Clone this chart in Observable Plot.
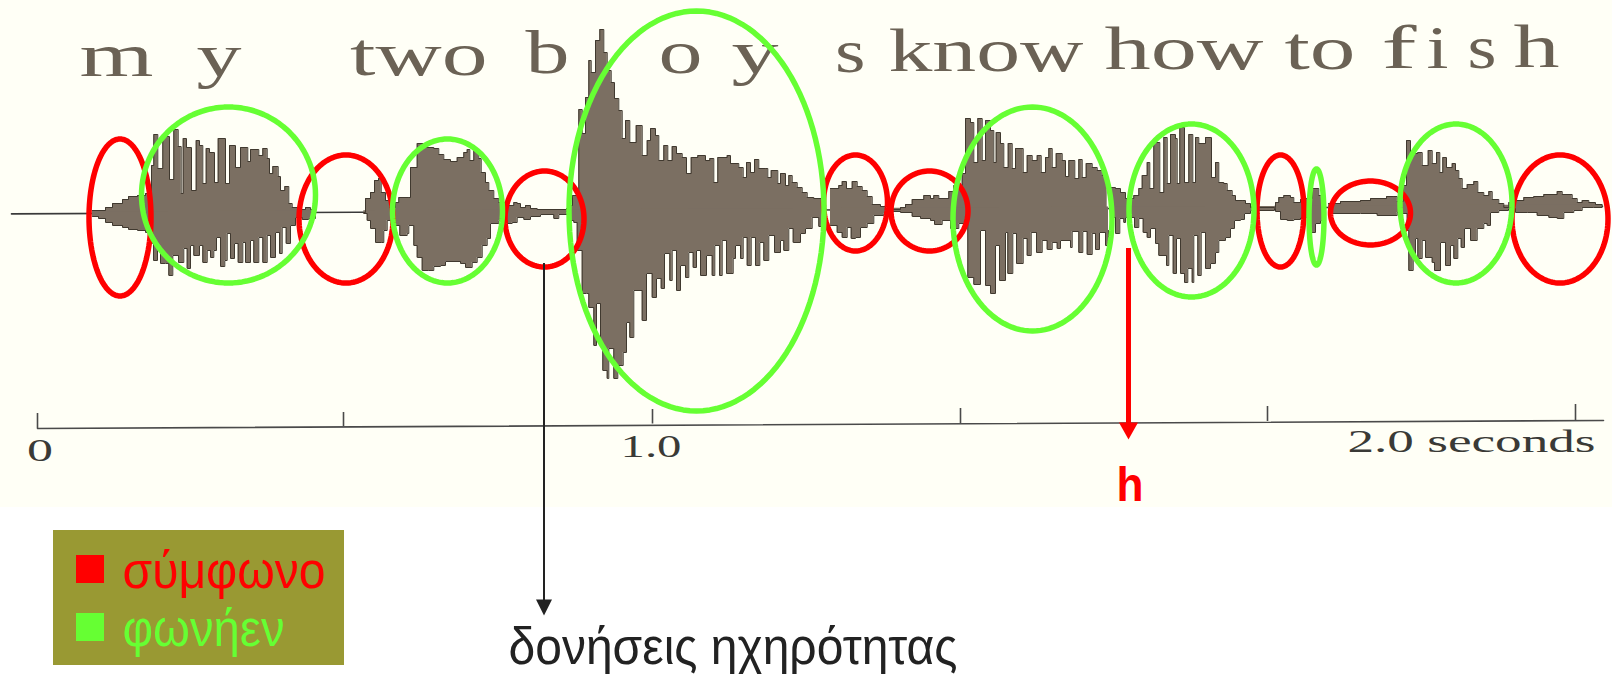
<!DOCTYPE html>
<html lang="el">
<head>
<meta charset="utf-8">
<title>my two boys know how to fish</title>
<script src="https://cdn.jsdelivr.net/npm/d3@7"></script>
<script src="https://cdn.jsdelivr.net/npm/@observablehq/plot@0.6"></script>
<style>
html,body{margin:0;padding:0;background:#fff;overflow:hidden}
svg{display:block}
</style>
</head>
<body>
<div id="chart"></div>
<script>
// Waveform envelope: [frame, amplitude] (steps).
const upperMy = [[92,0],[105,3],[112,7],[122,11],[128,14],[137,15],[145,17],[151,45],[153.3,76],[157.3,42],[162.3,74],[169,31],[173.3,81],[177.7,64],[180.7,17],[182.7,72],[186,63],[191,20],[195.7,70],[199,65],[202.3,27],[205.7,62],[209,58],[214,28],[217.7,72],[225,27],[229,65],[235,43],[240,63],[247.3,49],[250,61],[258.3,55],[262.3,62],[266.7,52],[269,37],[272.3,44],[277.7,34],[280,20],[284.3,24],[288.3,7],[291.7,3],[298.3,1],[305,3],[310,1],[315,-2]];
const lowerMy = [[92,-6],[98,-8],[105,-12],[112,-15],[122,-17],[128,-19],[137,-20],[145,-22],[152,-33],[153,-50],[157,-40],[160,-53],[165,-53],[168.3,-65],[172.3,-45],[178,-52],[183.3,-38],[186.7,-58],[190,-35],[193.3,-45],[199,-35],[202.3,-52],[206.7,-40],[210,-47],[213.3,-40],[216,-27],[220,-56],[224.3,-50],[226.7,-23],[230,-48],[234,-33],[237.7,-52],[242.3,-32],[245,-52],[250,-30],[253.3,-52],[258.3,-27],[262.3,-52],[266.7,-25],[270,-47],[275,-22],[279,-43],[281.7,-17],[285.7,-33],[290,-15],[295,-7],[301.7,-9],[308,-8],[315,-3]];
const upperTwo = [[363,-2],[365,12],[370,18],[374,30],[378,32],[380.7,18],[385,10],[389.3,3],[395,8],[398.3,13],[408.3,13],[410,43],[416.7,67],[422.7,63],[433.3,62],[438.3,56],[443.3,51],[450,49],[456.7,53],[463.3,58],[466.7,61],[469.3,50],[473.3,60],[478.3,52],[480.7,38],[485,28],[488.3,20],[493.3,12],[498.3,8],[506.7,5],[513.3,8],[516.7,7],[520,3],[525,5],[530,2],[536.7,1],[566,2]];
const lowerTwo = [[363.3,-3],[366.7,-10],[370,-18],[375,-32],[380.7,-32],[383.3,-20],[386.7,-10],[395,-15],[399.3,-25],[406.7,-23],[408.3,-15],[413.3,-35],[416.7,-47],[421.7,-60],[428.3,-60],[433.3,-56],[440,-55],[445,-51],[460,-53],[465,-57],[471.7,-52],[476.7,-47],[481.7,-35],[486.7,-28],[490,-13],[498.3,-10],[506.7,-13],[511.7,-12],[516.7,-7],[523.3,-9],[530,-6],[540,-4],[553.3,-8],[558.3,-4],[566.7,-3]];
const upperBoy = [[568,5],[572,15],[578.3,101],[581.7,77],[585,113],[588.3,150],[590.7,138],[595,170],[599.3,181],[603.3,158],[606.7,140],[610.7,128],[614,112],[618.3,100],[621.7,72],[625,90],[629.3,68],[635.7,85],[641.7,55],[646.7,70],[650,82],[655,75],[658.3,50],[663.3,65],[667.3,50],[671.7,64],[676,57],[681.7,53],[686,37],[690.7,53],[697.3,55],[705,50],[709.3,52],[713.3,28],[717.3,53],[726.7,55],[730,47],[738.3,43],[742.7,33],[746,48],[750,38],[754,51],[758.3,42],[765,42],[767.3,33],[770.7,40],[777.3,27],[780,37],[785,25],[788.3,35],[791.7,28],[796.7,23],[801.7,18],[806.7,13],[813.3,12],[822,12]];
const lowerBoy = [[570,-10],[573.3,-12],[576.7,-40],[581.7,-83],[586,-83],[588.3,-97],[593.3,-135],[596,-93],[600,-133],[602.3,-160],[606.7,-168],[608.3,-138],[613.3,-168],[617.3,-155],[622.7,-142],[626,-112],[629.3,-127],[633.3,-80],[641.7,-110],[646,-63],[651.7,-87],[656,-68],[660.7,-78],[664,-43],[669.3,-70],[671.7,-40],[676,-80],[680,-55],[685,-67],[688.3,-42],[692.7,-57],[696,-40],[700,-65],[706,-45],[711.7,-65],[714.3,-35],[719,-65],[721.7,-30],[726,-63],[732.7,-48],[735,-35],[740,-48],[742.7,-27],[746.7,-55],[750.7,-27],[755,-55],[759.3,-32],[763.3,-50],[768.3,-25],[774,-42],[780,-30],[783.3,-40],[788.3,-18],[792.7,-32],[800,-23],[805,-18],[811.7,-7],[818.3,-16],[821.7,-10]];
const upperKnow = [[830,22],[838.3,25],[841.7,29],[846,22],[851.7,29],[856.7,24],[861.7,20],[866.7,14],[871.7,6],[880,4],[885,2],[890,1],[900,3],[905,6],[911.7,11],[923.3,15],[930,12],[933.3,15],[938.3,12],[948.3,19],[953.3,25],[961.7,37],[965,92],[970,88],[973.3,48],[977.3,92],[981.7,50],[985,90],[990,80],[993.3,48],[995.7,78],[1000,67],[1003.3,43],[1007.7,67],[1011.7,42],[1015,62],[1022.7,38],[1026.7,55],[1031.7,50],[1036.7,55],[1040.7,38],[1045,53],[1048.3,62],[1051.7,43],[1055.7,57],[1061.7,50],[1065,34],[1068.3,50],[1074.3,32],[1078.3,51],[1081.7,33],[1085.7,47],[1091.7,43],[1096.7,40],[1101.7,35],[1106.7,22]];
const lowerKnow = [[830,-15],[836.7,-22],[841.7,-27],[846.7,-17],[850.7,-28],[855,-27],[860,-17],[866.7,-13],[873.3,-5],[883.3,-3],[888.3,-1],[900,-2],[911.7,-6],[920,-8],[930,-10],[934,-14],[941.7,-10],[950,-18],[958.3,-13],[967.3,-67],[973.3,-74],[980,-20],[985,-75],[990,-83],[995,-35],[999,-70],[1005,-22],[1007.3,-63],[1012.3,-23],[1016,-53],[1022.7,-28],[1026.7,-45],[1030.7,-22],[1036,-42],[1041.7,-30],[1046.7,-39],[1051.7,-32],[1056.7,-38],[1060,-30],[1070,-37],[1071.7,-21],[1078.3,-42],[1082.3,-21],[1086.7,-44],[1091.7,-23],[1095,-39],[1099,-22],[1105,-35],[1108,-20]];
const upperHow = [[1110,23],[1115,22],[1120,18],[1125,12],[1133.3,15],[1138.3,22],[1141.7,35],[1146.7,48],[1149.3,22],[1153.3,68],[1159.3,18],[1163.3,73],[1166.7,27],[1170,76],[1175,72],[1176.7,27],[1179.3,83],[1184,28],[1188.3,76],[1192.3,28],[1195,73],[1198.3,67],[1205,73],[1211,33],[1215,48],[1218.3,28],[1223.3,27],[1226.7,20],[1231.7,15],[1235,10],[1241.7,10],[1245,7],[1250,3],[1253.3,3],[1274,3],[1275,8],[1278.3,13],[1283.3,15],[1290,13],[1293.3,8],[1300,11],[1305,12],[1311.7,22],[1318.3,15],[1323.3,5]];
const lowerHow = [[1110,-7],[1115,-23],[1119.3,-8],[1123.3,-12],[1125,-7],[1134,-17],[1138.3,-8],[1142.7,-22],[1146.7,-27],[1150,-18],[1155,-33],[1158.3,-45],[1166,-55],[1168.3,-25],[1172.7,-63],[1176,-28],[1180,-63],[1184,-72],[1187.3,-58],[1191.7,-72],[1193.3,-25],[1197.3,-65],[1200.7,-22],[1205,-58],[1210,-53],[1215,-42],[1218.3,-30],[1225,-27],[1230,-18],[1234,-10],[1240,-9],[1244,-3],[1250,0],[1274,2],[1275,-1],[1280,-9],[1286.7,-10],[1293.3,-9],[1300,-7],[1310,-22],[1315,-13],[1320,-10],[1323.3,-3]];
const upperFish = [[1328,7],[1340,9],[1360,10],[1370,12],[1386,14],[1393.3,14],[1396.7,9],[1402.7,25],[1406,70],[1410,57],[1417.3,58],[1421.7,45],[1427.7,60],[1431.7,47],[1436,58],[1439.3,38],[1442.3,53],[1446,43],[1451.7,47],[1455,40],[1458.3,32],[1461.7,22],[1466.7,26],[1473.3,29],[1477.3,18],[1483.3,15],[1488.3,19],[1491.7,11],[1498.3,7],[1503.3,3],[1508.3,8],[1513.3,10],[1523.3,13],[1533.3,14],[1543.3,16],[1556.7,19],[1561.7,16],[1571.7,12],[1576.7,8],[1581.7,10],[1588.3,8],[1595,6],[1601.7,5]];
const lowerFish = [[1328,-3],[1360,-3],[1376.7,-5],[1396.7,-2],[1401.7,-3],[1406.7,-20],[1408.3,-60],[1412.7,-48],[1415,-28],[1417.3,-48],[1421.7,-30],[1425,-47],[1431.7,-52],[1434,-60],[1440,-32],[1445,-55],[1450,-35],[1453.3,-48],[1457.3,-28],[1460.7,-37],[1464,-18],[1470,-30],[1476.7,-18],[1483.3,-13],[1486.7,-15],[1490,-2],[1498.3,0],[1508,2],[1515,-2],[1526.7,-2],[1536.7,-5],[1548.3,-7],[1556.7,-8],[1563.3,-2],[1573.3,0],[1581.7,3],[1593.3,3],[1601.7,4]];

// Circled segments: [centre frame, centre amplitude, half width, half height]
const consonantRings = [[119.5,-7,31,78.5],[345.5,-8.5,47,64],[544,-8.5,39.5,48],[855,7.5,32,48],[929,-0.5,38.5,40],[1280,-0.5,23.5,56],[1370,-2.5,40,32],[1559.5,-8.5,48,64]];
const vowelRings = [[228,15.5,87,88],[447,-0.5,55,72],[696,-0.5,127.5,200],[1032,-8.5,79.5,112],[1191,0,62.5,86.5],[1316,-6.5,7.5,48],[1455.5,7,56,79.5]];

// Time axis
const tickFrames = [37,343,652,960,1267,1575];
const tickFoot = [-218,-216,-213.5,-213,-211,-210];
const tickHead = [-203,-202,-199,-198,-196,-194];
const axisEnds = [[37,-218],[1603,-210]];

// Printed sentence: word, frame, amplitude of baseline, printed width
const words = ["m","y","two","b","o","y","s","know","how","to","f","i","s","h"];
const wordFrames = [79,196,349.5,525,658,731,834.5,888,1104,1284,1381,1426,1467,1513];
const wordAmps = [135,135,136,138,138,138,139,140,142,142,143,143,143,143.5];
const wordWidths = [74,45,137.5,44,44,47,30.5,195,159,71,35,22,29,46];

const axisText = ["0","1.0","2.0 seconds"];
const axisTextFrames = [26.5,620,1347];
const axisTextAmps = [-250,-246,-241];
const axisTextWidths = [26,61,248];

const legendLabels = ["σύμφωνο","φωνήεν"];
const legendColours = ["#ff0000","#66ff33"];
const legendSwatchTops = [-345,-403];
const legendSwatchBottoms = [-373,-431];
const legendTextAmps = [-377,-435];
const legendTextWidths = [203,162];

// ---------------------------------------------------------------
const baseline = f => -3 + (f - 90) * 0.00483;
const runs = [upperMy, upperTwo, upperBoy, upperKnow, upperHow, upperFish];
const lows = [lowerMy, lowerTwo, lowerBoy, lowerKnow, lowerHow, lowerFish];
const envelope = (rows, run) => rows.map(([frame, amp]) => ({frame, amp, run, mid: baseline(frame)}));
const upperAll = d3.merge(runs.map(envelope));
const lowerAll = d3.merge(lows.map(envelope));

const ring = ([cx, cy, rx, ry], id) => d3.range(0, 121).map(k => ({
  id, frame: cx + rx * Math.cos(k / 120 * 2 * Math.PI), amp: cy + ry * Math.sin(k / 120 * 2 * Math.PI)
}));
const redPts = d3.merge(consonantRings.map(ring));
const greenPts = d3.merge(vowelRings.map(ring));

const wave = "#7b6f62", edge = "#40392f";
const plot = Plot.plot({
  width: 1612, height: 674, margin: 0,
  style: {background: "#fff", overflow: "hidden"},
  x: {domain: [0, 1612], range: [0, 1612], axis: null},
  y: {domain: [-464, 210], range: [674, 0], axis: null},
  marks: [
    // paper and legend panel
    Plot.rect([0], {x1: 0, x2: 1612, y1: -297, y2: 210, fill: "#fffff6"}),
    Plot.rect([0], {x1: 53, x2: 344, y1: -320, y2: -455, fill: "#999933"}),
    Plot.rect(legendLabels, {x1: 76, x2: 104, y1: (d, i) => legendSwatchTops[i], y2: (d, i) => legendSwatchBottoms[i], fill: (d, i) => legendColours[i]}),
    Plot.text(legendLabels, {className: "fit-legend", text: d => d, x: 122, y: (d, i) => legendTextAmps[i], fill: (d, i) => legendColours[i], fontFamily: "Liberation Sans", fontSize: 52, textAnchor: "start", lineAnchor: "bottom"}),

    // silence line and waveform
    Plot.line([[11, baseline(11)], [1602, baseline(1602)]], {x: d => d[0], y: d => d[1], stroke: "#3a3a3a", strokeWidth: 1.6}),
    Plot.areaY(upperAll, {x: "frame", y1: d => d.mid - 1.5, y2: "amp", z: "run", curve: "step-after", fill: wave}),
    Plot.areaY(lowerAll, {x: "frame", y1: d => d.mid + 1.5, y2: "amp", z: "run", curve: "step-after", fill: wave}),
    Plot.line(upperAll, {x: "frame", y: "amp", z: "run", curve: "step-after", stroke: edge, strokeWidth: 1}),
    Plot.line(lowerAll, {x: "frame", y: "amp", z: "run", curve: "step-after", stroke: edge, strokeWidth: 1}),

    // sentence
    Plot.text(words, {className: "fit-words", text: d => d, x: (d, i) => wordFrames[i], y: (d, i) => wordAmps[i], fill: "#6b6255", fontFamily: "Liberation Serif", fontSize: 61, textAnchor: "start", lineAnchor: "bottom"}),

    // time axis
    Plot.line(axisEnds, {x: d => d[0], y: d => d[1], stroke: "#4a4a4a", strokeWidth: 1.6}),
    Plot.ruleX(tickFrames, {x: d => d, y1: (d, i) => tickFoot[i], y2: (d, i) => tickHead[i], stroke: "#4a4a4a", strokeWidth: 1.6}),
    Plot.text(axisText, {className: "fit-axis", text: d => d, x: (d, i) => axisTextFrames[i], y: (d, i) => axisTextAmps[i], fill: "#3a3a36", fontFamily: "Liberation Serif", fontSize: 31, textAnchor: "start", lineAnchor: "bottom"}),

    // rings
    Plot.line(redPts, {x: "frame", y: "amp", z: "id", stroke: "#ff0000", strokeWidth: 5.5, curve: "linear"}),
    Plot.line(greenPts, {x: "frame", y: "amp", z: "id", stroke: "#66ff33", strokeWidth: 5.5, curve: "linear"}),

    // voicing arrow (black)
    Plot.ruleX([543.5], {y1: -53, y2: -390, stroke: "#222", strokeWidth: 2}),
    Plot.line([[535.5,-389],[551.5,-389],[543.5,-405]], {x: d => d[0], y: d => d[1], fill: "#222", stroke: "none"}),
    Plot.text(["δονήσεις ηχηρότητας"], {className: "fit-note", x: 508, y: -453, fill: "#222", fontFamily: "Liberation Sans", fontSize: 52, textAnchor: "start", lineAnchor: "bottom"}),

    // /h/ arrow (red)
    Plot.ruleX([1128], {y1: -38, y2: -213, stroke: "#ff0000", strokeWidth: 5}),
    Plot.line([[1118.5,-212],[1137.5,-212],[1128,-229]], {x: d => d[0], y: d => d[1], fill: "#ff0000", stroke: "none"}),
    Plot.text(["h"], {className: "fit-h", x: 1116, y: -290, fill: "#ff0000", fontFamily: "Liberation Sans", fontWeight: "bold", fontSize: 49, textAnchor: "start", lineAnchor: "bottom"})
  ]
});

const fit = (cls, widths) => d3.select(plot).selectAll("." + cls + " text").each(function(d, i) {
  d3.select(this).attr("textLength", widths[i]).attr("lengthAdjust", "spacingAndGlyphs");
});
fit("fit-words", wordWidths);
fit("fit-axis", axisTextWidths);
fit("fit-legend", legendTextWidths);
fit("fit-note", [449]);
fit("fit-h", [27]);
document.getElementById("chart").append(plot);
</script>
</body>
</html>
